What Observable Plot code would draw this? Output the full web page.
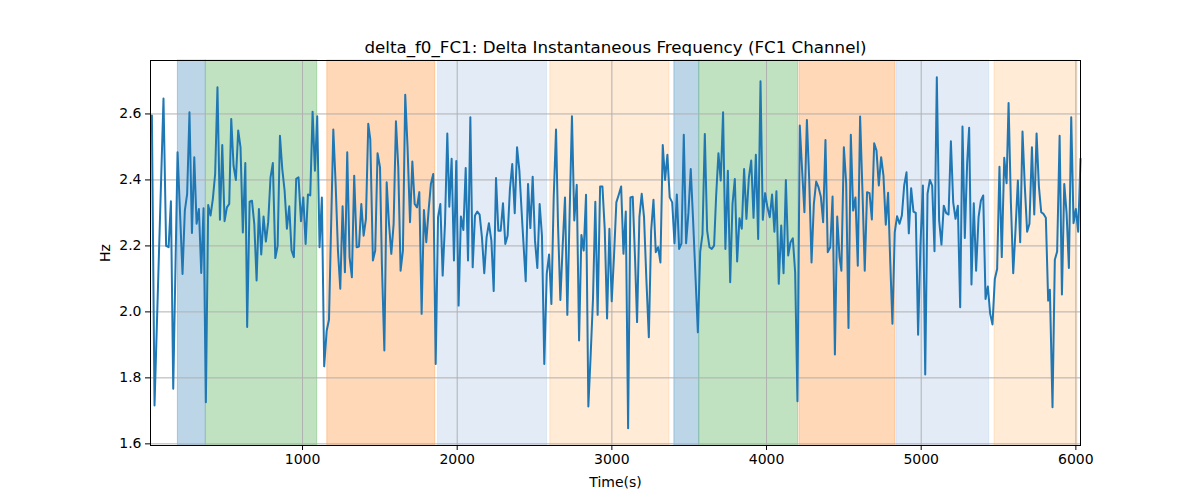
<!DOCTYPE html>
<html>
<head>
<meta charset="utf-8">
<script src="https://cdn.jsdelivr.net/npm/d3@7"></script>
<script src="https://cdn.jsdelivr.net/npm/@observablehq/plot@0.6"></script>
<style>
  html, body { margin: 0; padding: 0; background: white; }
  #chart { width: 1200px; height: 500px; }
</style>
</head>
<body>
<div id="chart"></div>
<script>
const titleText = "delta_f0_FC1: Delta Instantaneous Frequency (FC1 Channel)";
const xLabel = "Time(s)";
const yLabel = "Hz";
const xTicks = [1000, 2000, 3000, 4000, 5000, 6000];
const yTicks = [1.6, 1.8, 2.0, 2.2, 2.4, 2.6];

const bandStart = [194, 375, 1160, 1876, 2602, 3404, 3566, 4213, 4840, 5474];
const bandEnd   = [375, 1095, 1858, 2581, 3372, 3566, 4204, 4832, 5440, 6011];
const bandKind  = ["blue", "green", "orange", "lightblue", "lightorange",
                   "blue", "green", "orange", "lightblue", "lightorange"];

const times = [
  26, 43, 101, 118, 134, 149, 164, 192, 224, 239, 254, 269, 285, 300, 315, 330, 345, 360, 375, 390,
  405, 420, 435, 450, 466, 481, 496, 511, 526, 539, 554, 569, 584, 599, 614, 630, 642, 658, 673, 688,
  703, 718, 733, 748, 763, 778, 793, 808, 824, 839, 854, 869, 884, 899, 914, 929, 944, 959, 974, 990,
  1005, 1020, 1035, 1050, 1065, 1080, 1095, 1110, 1125, 1140, 1156, 1171, 1199, 1214, 1229, 1244, 1259, 1274, 1289, 1304,
  1319, 1334, 1350, 1365, 1380, 1395, 1410, 1425, 1438, 1455, 1470, 1485, 1501, 1513, 1529, 1544, 1559, 1574, 1589, 1604,
  1619, 1634, 1649, 1664, 1679, 1695, 1710, 1725, 1740, 1755, 1770, 1785, 1800, 1815, 1830, 1845, 1861, 1876, 1891, 1906,
  1921, 1936, 1949, 1964, 1979, 1994, 2009, 2024, 2040, 2055, 2070, 2085, 2100, 2115, 2130, 2145, 2160, 2175, 2190, 2205,
  2221, 2236, 2251, 2266, 2281, 2296, 2311, 2326, 2341, 2356, 2372, 2387, 2402, 2421, 2443, 2458, 2473, 2488, 2503, 2518,
  2533, 2548, 2563, 2579, 2594, 2609, 2624, 2639, 2652, 2667, 2682, 2697, 2712, 2727, 2742, 2757, 2773, 2788, 2803, 2818,
  2833, 2848, 2863, 2878, 2893, 2908, 2924, 2939, 2954, 2969, 2984, 2999, 3014, 3029, 3045, 3060, 3075, 3090, 3105, 3120,
  3135, 3150, 3163, 3178, 3193, 3208, 3223, 3239, 3254, 3269, 3284, 3299, 3314, 3329, 3344, 3359, 3374, 3390, 3405, 3420,
  3435, 3450, 3465, 3480, 3495, 3510, 3525, 3556, 3571, 3586, 3601, 3616, 3631, 3646, 3661, 3674, 3689, 3704, 3719, 3734,
  3750, 3765, 3780, 3795, 3810, 3825, 3840, 3855, 3870, 3886, 3901, 3916, 3931, 3946, 3961, 3976, 3991, 4006, 4021, 4036,
  4051, 4064, 4079, 4095, 4110, 4125, 4140, 4155, 4170, 4185, 4200, 4215, 4230, 4245, 4261, 4276, 4291, 4306, 4321, 4336,
  4351, 4366, 4381, 4396, 4412, 4427, 4442, 4457, 4472, 4484, 4500, 4515, 4530, 4545, 4560, 4575, 4590, 4605, 4620, 4635,
  4650, 4666, 4681, 4696, 4711, 4726, 4741, 4756, 4771, 4786, 4800, 4814, 4829, 4844, 4860, 4875, 4890, 4905, 4920, 4935,
  4950, 4965, 4980, 4995, 5011, 5026, 5041, 5056, 5071, 5086, 5101, 5116, 5131, 5146, 5161, 5177, 5192, 5207, 5222, 5237,
  5252, 5267, 5282, 5297, 5310, 5325, 5340, 5355, 5371, 5386, 5401, 5416, 5431, 5446, 5461, 5476, 5491, 5506, 5521, 5537,
  5552, 5565, 5580, 5595, 5610, 5625, 5640, 5655, 5670, 5685, 5700, 5716, 5731, 5746, 5761, 5776, 5791, 5806, 5821, 5832,
  5849, 5864, 5879, 5895, 5910, 5925, 5940, 5955, 5970, 5985, 6000, 6015, 6030
];
const hz = [
  2.595, 1.716, 2.647, 2.2, 2.196, 2.335, 1.767, 2.484, 2.115, 2.307, 2.358, 2.605, 2.239, 2.469, 2.267, 2.312, 2.118, 2.314, 1.726, 2.324,
  2.292, 2.342, 2.418, 2.681, 2.279, 2.506, 2.275, 2.317, 2.327, 2.585, 2.443, 2.4, 2.55, 2.499, 2.241, 2.451, 1.954, 2.334, 2.337, 2.267,
  2.095, 2.312, 2.174, 2.289, 2.213, 2.272, 2.408, 2.451, 2.163, 2.2, 2.534, 2.433, 2.368, 2.252, 2.32, 2.186, 2.166, 2.403, 2.408, 2.275,
  2.347, 2.206, 2.356, 2.353, 2.607, 2.428, 2.593, 2.196, 2.347, 1.835, 1.943, 1.976, 2.553, 2.388, 2.186, 2.07, 2.32, 2.12, 2.484, 2.166,
  2.105, 2.413, 2.196, 2.198, 2.327, 2.231, 2.282, 2.57, 2.524, 2.156, 2.186, 2.481, 2.438, 2.145, 1.883, 2.393, 2.267, 2.176, 2.267, 2.578,
  2.438, 2.125, 2.186, 2.658, 2.499, 2.272, 2.456, 2.327, 2.317, 2.363, 1.994, 2.309, 2.211, 2.307, 2.388, 2.418, 1.842, 2.287, 2.327, 2.11,
  2.267, 2.541, 2.319, 2.464, 2.156, 2.457, 2.019, 2.289, 2.248, 2.436, 2.156, 2.59, 2.135, 2.292, 2.304, 2.295, 2.226, 2.117, 2.226, 2.269,
  2.216, 2.063, 2.406, 2.246, 2.246, 2.329, 2.206, 2.231, 2.373, 2.448, 2.299, 2.499, 2.428, 2.267, 2.093, 2.388, 2.254, 2.41, 2.216, 2.133,
  2.327, 2.231, 1.842, 2.115, 2.174, 2.024, 2.347, 2.553, 2.26, 2.036, 2.2, 2.347, 1.991, 2.3, 2.593, 2.277, 2.385, 1.913, 2.233, 2.186,
  2.355, 1.713, 1.87, 2.04, 2.334, 1.991, 2.38, 2.38, 2.25, 1.98, 2.252, 2.032, 2.17, 2.332, 2.356, 2.38, 2.176, 2.304, 1.647, 2.347,
  2.349, 2.16, 1.969, 2.287, 2.358, 2.287, 2.1, 1.923, 2.246, 2.34, 2.181, 2.196, 2.15, 2.506, 2.4, 2.476, 2.347, 2.332, 2.208, 2.356,
  2.191, 2.208, 2.537, 2.208, 2.3, 2.433, 2.28, 1.938, 2.181, 2.236, 2.539, 2.246, 2.196, 2.191, 2.201, 2.35, 2.481, 2.398, 2.605, 2.191,
  2.428, 2.09, 2.327, 2.403, 2.153, 2.284, 2.252, 2.433, 2.282, 2.408, 2.459, 2.285, 2.476, 2.221, 2.699, 2.279, 2.36, 2.317, 2.287, 2.356,
  2.243, 2.366, 2.085, 2.262, 2.117, 2.4, 2.171, 2.211, 2.223, 2.12, 1.729, 2.565, 2.43, 2.302, 2.582, 2.4, 2.15, 2.327, 2.395, 2.378,
  2.35, 2.272, 2.521, 2.181, 2.196, 2.35, 1.871, 2.289, 2.166, 2.125, 2.499, 2.39, 1.951, 2.537, 2.307, 2.347, 2.14, 2.592, 2.37, 2.125,
  2.363, 2.36, 2.28, 2.511, 2.489, 2.383, 2.469, 2.413, 2.264, 2.361, 2.15, 1.964, 2.241, 2.29, 2.267, 2.292, 2.383, 2.423, 2.238, 2.375,
  2.304, 2.3, 1.931, 2.2, 2.383, 1.81, 2.358, 2.4, 2.383, 2.184, 2.711, 2.277, 2.204, 2.322, 2.3, 2.295, 2.517, 2.332, 2.282, 2.322,
  2.014, 2.562, 2.224, 2.45, 2.558, 2.083, 2.329, 2.125, 2.287, 2.337, 2.353, 2.039, 2.077, 1.994, 1.962, 2.1, 2.13, 2.44, 2.166, 2.467,
  2.39, 2.633, 2.33, 2.117, 2.25, 2.398, 2.211, 2.547, 2.38, 2.243, 2.267, 2.499, 2.295, 2.541, 2.38, 2.302, 2.297, 2.285, 2.034, 2.067,
  1.711, 2.158, 2.183, 2.534, 2.053, 2.388, 2.3, 2.133, 2.59, 2.269, 2.312, 2.243, 2.464
];

// style lookups (kept separate from data)
const bandFill = {
  blue: "#bcd6e8", green: "#c0e2c0", orange: "#ffd8b7",
  lightblue: "#e3ebf7", lightorange: "#ffebd6"
};
const bandEdge = {
  blue: "#1f77b4", green: "#2ca02c", orange: "#ff7f0e",
  lightblue: "#aec7e8", lightorange: "#ffbb78"
};

const series = times.map((t, i) => ({t, v: hz[i]}));
const bands = bandStart.map((s, i) => ({start: s, end: bandEnd[i], kind: bandKind[i]}));

const chart = Plot.plot({
  width: 1200,
  height: 500,
  marginLeft: 150,
  marginRight: 120,
  marginTop: 60,
  marginBottom: 55,
  style: {fontFamily: "'DejaVu Sans', sans-serif", fontSize: "14px", color: "black", background: "white"},
  x: {domain: [17, 6030]},
  y: {domain: [1.595, 2.762]},
  color: {type: "identity"},
  marks: [
    Plot.rect(bands, {x1: "start", x2: "end", fill: d => bandFill[d.kind], stroke: d => bandEdge[d.kind], strokeOpacity: 0.3, strokeWidth: 1}),
    Plot.gridX(xTicks, {stroke: "#b0b0b0", strokeOpacity: 1, strokeWidth: 1}),
    Plot.gridY(yTicks, {stroke: "#b0b0b0", strokeOpacity: 1, strokeWidth: 1}),
    Plot.line(series, {x: "t", y: "v", stroke: "#1f77b4", strokeWidth: 2}),
    Plot.frame({stroke: "black", strokeWidth: 1}),
    Plot.axisX(xTicks, {tickSize: 5, tickPadding: 4, tickFormat: d => String(d), fontSize: 14,
      label: xLabel, labelAnchor: "center", labelArrow: "none", labelOffset: 41}),
    Plot.axisY(yTicks, {tickSize: 5, tickPadding: 4, tickFormat: d3.format(".1f"), fontSize: 14,
      label: yLabel, labelAnchor: "center", labelArrow: "none", labelOffset: 50}),
    Plot.text([titleText], {frameAnchor: "top", dy: -19, fontSize: 16.7, fill: "black"})
  ]
});
document.getElementById("chart").appendChild(chart);
</script>
</body>
</html>
